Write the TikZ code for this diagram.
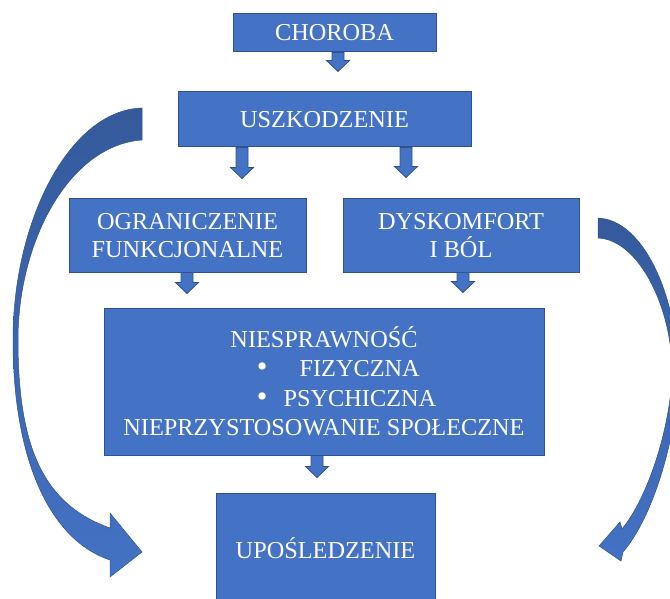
\documentclass[tikz,border=0pt]{standalone}
\usepackage{fontspec}
\setmainfont{Liberation Serif}
\usetikzlibrary{calc}
\definecolor{boxblue}{HTML}{4472C4}
\definecolor{boxedge}{HTML}{2F528F}
\definecolor{darkblue}{RGB}{52,90,155}
\tikzset{
  box/.style={draw=boxedge, line width=1pt, fill=boxblue, text=white,
    font=\fontsize{24.3}{28}\selectfont, align=center, inner sep=0pt},
  blk/.style={fill=boxblue, draw=boxedge, line width=0.8pt, line join=miter},
  curved/.style={top color=darkblue, bottom color=boxblue, draw=boxedge, line width=0.5pt}
}
\newcommand\dnarr[4]{%
  \path (#1,0 |- #2.south) coordinate (t) (#1,0 |- #3.north) coordinate (b);
  \draw[blk] ($(t)+(-6,0)$) -- ($(t)+(6,0)$) -- ($(b)+(6,-#4-11)$) -- ($(b)+(11.5,-#4-11)$)
    -- ($(b)+(0,-#4)$) -- ($(b)+(-11.5,-#4-11)$) -- ($(b)+(-6,-#4-11)$) -- cycle;}
\newcommand\bigbul{\scalebox{1.25}{\textbullet}}
\begin{document}
\begin{tikzpicture}[x=1pt,y=-1pt]
\useasboundingbox (0,0) rectangle (670,599);
\clip (0,0) rectangle (670,599);
% curved arrows
\draw[curved] (142,108) .. controls (70,110) and (13,220) .. (13,340)
  .. controls (13,460) and (50,540) .. (110,560) -- (110,577) -- (142,552) -- (110,513) -- (110,528)
  .. controls (45,505) and (18,450) .. (18,340) .. controls (18,240) and (70,145) .. (142,140) -- cycle;
\draw[curved] (598,218) .. controls (645,220) and (678,300) .. (678,375)
  .. controls (678,430) and (655,515) .. (623,552) -- (621,561) -- (599,546) -- (620,522) -- (622,529)
  .. controls (650,495) and (672,420) .. (672,370) .. controls (672,310) and (640,240) .. (598,238) -- cycle;
% boxes
\node[box, minimum width=203, minimum height=38] (chor) at (334.5,33) {CHOROBA};
\node[box, minimum width=293, minimum height=55] (usz) at (324.5,119.5) {USZKODZENIE};
\node[box, minimum width=237, minimum height=73] (ogr) at (187.5,235.5) {OGRANICZENIE\\FUNKCJONALNE};
\node[box, minimum width=236, minimum height=73] (dys) at (461,235.5) {DYSKOMFORT\\I BÓL};
\node[box, minimum width=440, minimum height=147, font=\fontsize{24.3}{29.5}\selectfont] (nie) at (324,381.5)
  {\makebox[400pt]{NIESPRAWNOŚĆ}\\
   \makebox[400pt][l]{\hspace{133pt}\bigbul\hspace{32pt}FIZYCZNA}\\
   \makebox[400pt][l]{\hspace{133pt}\bigbul\hspace{16pt}PSYCHICZNA}\\
   \makebox[400pt]{NIEPRZYSTOSOWANIE SPOŁECZNE}};
\node[box, minimum width=219, minimum height=110] (upo) at (325.5,548) {UPOŚLEDZENIE};
% block arrows
\dnarr{338}{chor}{usz}{20}
\dnarr{242}{usz}{ogr}{20}
\dnarr{406}{usz}{dys}{21}
\dnarr{187}{ogr}{nie}{14}
\dnarr{463}{dys}{nie}{15}
\dnarr{317}{nie}{upo}{15}
\end{tikzpicture}
\end{document}
